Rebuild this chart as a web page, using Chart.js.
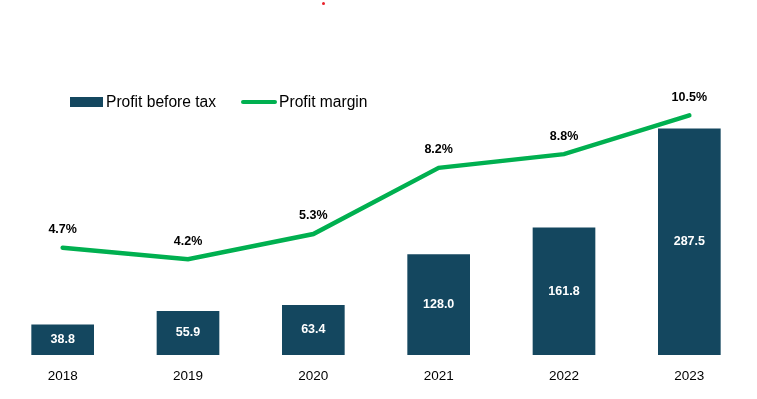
<!DOCTYPE html>
<html>
<head>
<meta charset="utf-8">
<script src="https://cdn.jsdelivr.net/npm/chart.js@4"></script>
<style>
  body { margin: 0; background: #fff; font-family: "Liberation Sans", Arial, sans-serif; }
  #wrap { position: relative; width: 757px; height: 399px; }
  #legend { position: absolute; left: 70px; top: 93px; display: flex; align-items: center; font-size: 15.6px; color: #000; }
  .sw-bar { width: 33px; height: 10px; background: #14475f; margin-right: 3px; }
  .sw-line { width: 36px; height: 4px; border-radius: 2px; background: #00b050; margin-left: 25px; margin-right: 2px; }
  #dot { position: absolute; left: 322px; top: 2px; width: 3px; height: 3px; border-radius: 50%; background: #e8202a; }
</style>
</head>
<body>
<div id="wrap">
  <canvas id="chart" width="757" height="399"></canvas>
  <div id="legend">
    <span class="sw-bar"></span><span>Profit before tax</span>
    <span class="sw-line"></span><span>Profit margin</span>
  </div>
  <span id="dot"></span>
</div>
<script>
// --- data ---
const years = ['2018', '2019', '2020', '2021', '2022', '2023'];
const profitBeforeTax = [38.8, 55.9, 63.4, 128.0, 161.8, 287.5];
const profitMargin = [4.7, 4.2, 5.3, 8.2, 8.8, 10.5];

const BAR_COLOR = '#14475f';
const LINE_COLOR = '#00b050';

// draws the value labels: white inside bars, black above line points
const valueLabels = {
  id: 'valueLabels',
  afterDatasetsDraw(chart) {
    const ctx = chart.ctx;
    ctx.save();
    ctx.font = 'bold 12.5px "Liberation Sans", Arial, sans-serif';
    ctx.textAlign = 'center';
    ctx.textBaseline = 'middle';
    chart.getDatasetMeta(1).data.forEach((bar, i) => {
      ctx.fillStyle = '#ffffff';
      ctx.fillText(profitBeforeTax[i].toFixed(1), bar.x, (bar.y + bar.base) / 2);
    });
    chart.getDatasetMeta(0).data.forEach((pt, i) => {
      ctx.fillStyle = '#000000';
      ctx.fillText(profitMargin[i].toFixed(1) + '%', pt.x, pt.y - 18);
    });
    ctx.restore();
  }
};

new Chart(document.getElementById('chart'), {
  data: {
    labels: years,
    datasets: [{
      type: 'line',
      label: 'Profit margin',
      data: profitMargin,
      borderColor: LINE_COLOR,
      borderWidth: 4.5,
      pointRadius: 0,
      tension: 0,
      borderCapStyle: 'round',
      yAxisID: 'y1',
      order: 0
    }, {
      type: 'bar',
      label: 'Profit before tax',
      data: profitBeforeTax,
      backgroundColor: BAR_COLOR,
      categoryPercentage: 1,
      barPercentage: 0.5,
      yAxisID: 'y',
      order: 1
    }]
  },
  options: {
    responsive: false,
    animation: false,
    layout: { padding: { top: 40, right: 5, left: 0, bottom: 0 } },
    plugins: { legend: { display: false }, tooltip: { enabled: false } },
    scales: {
      x: {
        grid: { display: false, drawTicks: false },
        border: { display: false },
        ticks: { color: '#000', padding: 13, font: { family: '"Liberation Sans", Arial, sans-serif', size: 13.5 } },
        afterFit: s => { s.height = 44; }
      },
      y: { display: false, min: 0, max: 400 },
      y1: { display: false, min: 0, max: 13.8 }
    }
  },
  plugins: [valueLabels]
});
</script>
</body>
</html>
